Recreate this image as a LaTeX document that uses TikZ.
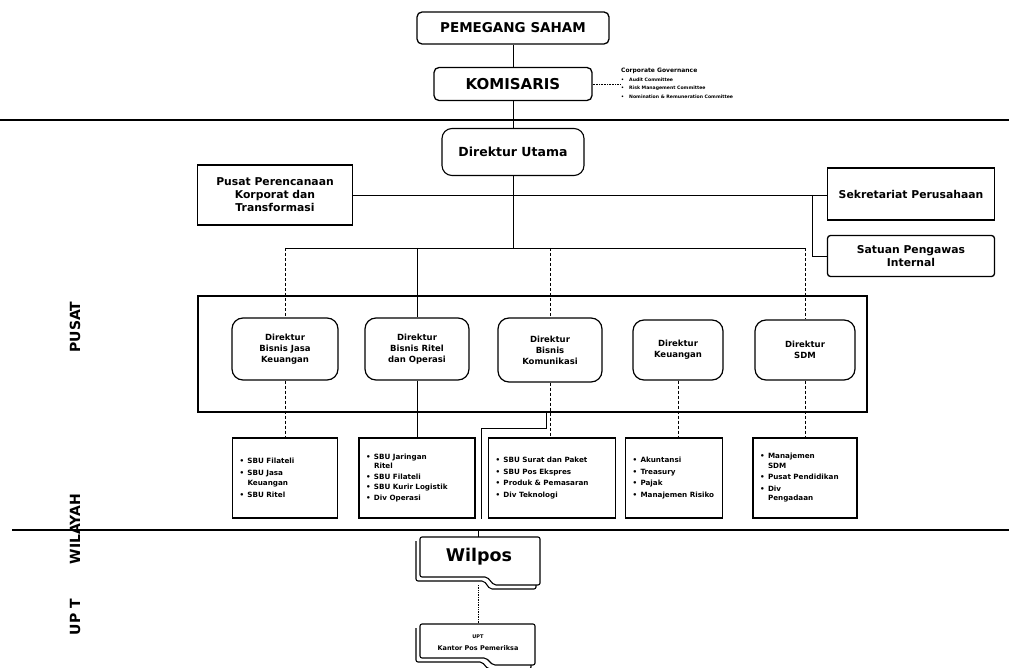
\documentclass[tikz,border=0pt]{standalone}
\usepackage{fontspec}
\setmainfont{DejaVu Sans}
\newcommand{\litem}[1]{\makebox[8pt][l]{•}#1}
\newcommand{\lcont}[1]{\hspace*{8pt}#1}
\begin{document}
\begin{tikzpicture}[x=1pt,y=-1pt,
  every node/.style={inner sep=0pt, align=center},
  link/.style={line width=0.9pt},
  thinlink/.style={line width=0.6pt, densely dashed},
  band/.style={line width=1.4pt},
  topbox/.style={draw, line width=1.3pt, rounded corners=5pt,
    font=\bfseries\fontsize{13.5}{15}\selectfont},
  headbox/.style={draw, line width=1.1pt, rounded corners=10pt,
    font=\bfseries\fontsize{12.5}{14}\selectfont},
  staffbox/.style={draw, line width=1.3pt,
    font=\bfseries\fontsize{10.8}{13}\selectfont},
  dirbox/.style={draw, line width=1.2pt, rounded corners=11pt,
    font=\bfseries\fontsize{8.5}{11}\selectfont},
  listbox/.style={draw, line width=1.5pt, align=left, inner xsep=7pt,
    font=\bfseries\fontsize{7.2}{9.5}\selectfont},
  tabshape/.style={draw, line width=1.1pt, rounded corners=2pt, fill=white},
  sidelabel/.style={rotate=90, font=\bfseries\fontsize{14}{16}\selectfont}
]
\useasboundingbox (0,0) rectangle (1009,668);
\fill[white] (0,0) rectangle (1009,668);

% ---- top level: shareholders and board
\node[topbox, minimum width=192, minimum height=32] (psaham) at (513,28) {PEMEGANG SAHAM};
\node[topbox, font=\bfseries\fontsize{15}{17}\selectfont, minimum width=158, minimum height=33] (komisaris) at (513,84) {KOMISARIS};
\node[anchor=north west, align=left, font=\bfseries\fontsize{4.6}{8.5}\selectfont] (gov) at (621,68)
  {{\fontsize{6}{8.5}\selectfont Corporate Governance}\\
   \litem{Audit Committee}\\
   \litem{Risk Management Committee}\\
   \litem{Nomination \& Remuneration Committee}};

\coordinate (bandL) at (0,120);
\coordinate (bandR) at (1009,120);
\draw[band] (bandL) -- (bandR);

% ---- board of directors and staff units
\node[headbox, minimum width=142, minimum height=47] (dirut) at (513,152) {Direktur Utama};
\node[staffbox, minimum width=155, minimum height=60] (renc) at (275,195)
  {Pusat Perencanaan\\Korporat dan\\Transformasi};
\node[staffbox, minimum width=167, minimum height=52] (sekper) at (911,194) {Sekretariat Perusahaan};
\node[staffbox, rounded corners=3pt, minimum width=167, minimum height=41] (spi) at (911,256)
  {Satuan Pengawas\\Internal};

\draw[link] (psaham) -- (komisaris);
\draw[link] (komisaris) -- (dirut);
\draw[line width=0.6pt, densely dotted] (komisaris.east) -- (komisaris.east -| gov.west);
\draw[link] (renc.east) -- (renc.east -| sekper.west);
\coordinate (spiTap) at (812,195);
\draw[link] (spiTap) |- (spi.west);

\coordinate (distL) at (285,248);
\coordinate (distR) at (805,248);
\draw[link] (dirut.south) -- (dirut.south |- distL);
\draw[link] (distL) -- (distR);

% ---- head office block
\draw[line width=1.6pt] (198,296) rectangle (867,412);
\node[dirbox, minimum width=106, minimum height=62] (d1) at (285,349) {Direktur\\Bisnis Jasa\\Keuangan};
\node[dirbox, minimum width=104, minimum height=62] (d2) at (417,349) {Direktur\\Bisnis Ritel\\dan Operasi};
\node[dirbox, minimum width=104, minimum height=64] (d3) at (550,350) {Direktur\\Bisnis\\Komunikasi};
\node[dirbox, minimum width=90, minimum height=60] (d4) at (678,350) {Direktur\\Keuangan};
\node[dirbox, minimum width=100, minimum height=60] (d5) at (805,350) {Direktur\\SDM};

\draw[thinlink] (distL) -- (d1.north);
\draw[link] (d2.north |- distL) -- (d2.north);
\draw[thinlink] (d3.north |- distL) -- (d3.north);
\draw[thinlink] (distR) -- (d5.north);

% ---- units under each director
\node[listbox, text width=91, minimum height=80] (l1) at (285,478)
  {\litem{SBU Filateli}\\[3pt]\litem{SBU Jasa}\\\lcont{Keuangan}\\[3pt]\litem{SBU Ritel}};
\node[listbox, text width=102, minimum height=80] (l2) at (417,478)
  {\litem{SBU Jaringan}\\\lcont{Ritel}\\[1pt]\litem{SBU Filateli}\\[1pt]\litem{SBU Kurir Logistik}\\[1pt]\litem{Div Operasi}};
\node[listbox, text width=113, minimum height=80] (l3) at (552,478)
  {\litem{SBU Surat dan Paket}\\[2pt]\litem{SBU Pos Ekspres}\\[2pt]\litem{Produk \& Pemasaran}\\[2pt]\litem{Div Teknologi}};
\node[listbox, text width=83, minimum height=80] (l4) at (674,478)
  {\litem{Akuntansi}\\[2pt]\litem{Treasury}\\[2pt]\litem{Pajak}\\[2pt]\litem{Manajemen Risiko}};
\node[listbox, text width=90, minimum height=80] (l5) at (805,478)
  {\litem{Manajemen}\\\lcont{SDM}\\[2pt]\litem{Pusat Pendidikan}\\[2pt]\litem{Div}\\\lcont{Pengadaan}};

\draw[thinlink] (d1.south) -- (l1.north);
\draw[link] (d2.south) -- (l2.north);
\draw[thinlink] (d3.south) -- (d3.south |- l3.north);
\draw[thinlink] (d4.south) -- (d4.south |- l4.north);
\draw[thinlink] (d5.south) -- (l5.north);
\coordinate (l3tap) at (546,412);
\coordinate (l3side) at (481,428);
\draw[line width=0.8pt] (l3tap) |- (l3side) -- (l3side |- l3.south);

% ---- regional level
\coordinate (wilL) at (12,530);
\coordinate (wilR) at (1009,530);
\draw[band] (wilL) -- (wilR);

\draw[tabshape] (416,541) -- (416,581) -- (484,581) -- (490,589) -- (536,589) -- (536,585);
\draw[tabshape] (420,537) -- (540,537) -- (540,585) -- (494,585) -- (487,577) -- (420,577) -- cycle;
\node[font=\bfseries\fontsize{17.5}{19}\selectfont] (wilpos) at (479,557) {Wilpos};
\coordinate (wilTop) at (478,537);
\coordinate (wilBot) at (478,585);
\draw[link] (wilTop |- wilL) -- (wilTop);

% ---- technical units
\draw[tabshape] (416,628) -- (416,662) -- (482,662) -- (488,669) -- (531,669) -- (531,665);
\draw[tabshape] (420,624) -- (535,624) -- (535,665) -- (493,665) -- (486,658) -- (420,658) -- cycle;
\node[font=\bfseries\fontsize{5}{6}\selectfont] (upt) at (478,637) {UPT};
\node[font=\bfseries\fontsize{6.5}{8}\selectfont] (uptname) at (478,648) {Kantor Pos Pemeriksa};
\coordinate (uptTop) at (478,624);
\draw[line width=0.7pt, densely dotted] (wilBot) -- (uptTop);

% ---- level labels
\node[sidelabel] (lpusat) at (75,327) {PUSAT};
\node[sidelabel] (lwil) at (75,529) {WILAYAH};
\node[sidelabel] (lupt) at (75,617) {UP T};
\end{tikzpicture}
\end{document}
